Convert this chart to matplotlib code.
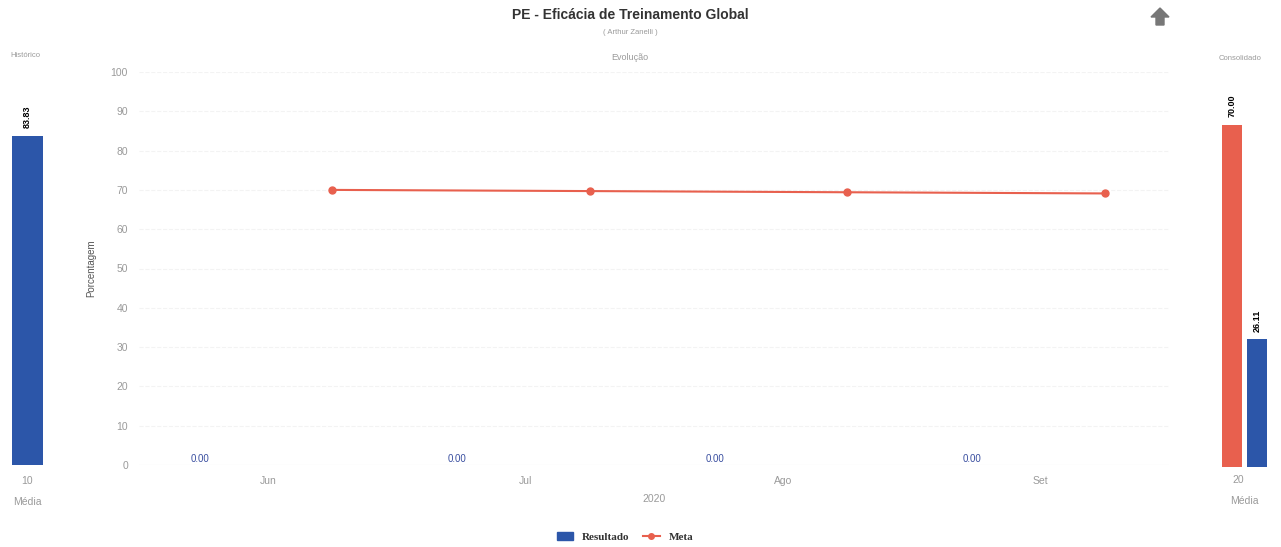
import matplotlib.pyplot as plt
from matplotlib.patches import Polygon
from matplotlib.lines import Line2D
from matplotlib.patches import Patch

# data
meses = ['Jun', 'Jul', 'Ago', 'Set']
resultado = [0.00, 0.00, 0.00, 0.00]
meta = [70.0, 69.7, 69.4, 69.1]
historico_cat = ['10']
historico_val = [83.83]
consolidado_cat = ['20']
consolidado_meta = [70.00]
consolidado_res = [26.11]

azul = '#2c56a9'
vermelho = '#e8604e'
cinza = '#9a9a9a'

plt.rcParams['font.family'] = ['Liberation Sans', 'DejaVu Sans']

fig = plt.figure(figsize=(12.81, 5.47), dpi=100)
W, H = 1281, 547


def box(x0, y0, x1, y1):
    return [x0 / W, 1 - y1 / H, (x1 - x0) / W, (y1 - y0) / H]


# grafico principal
ax = fig.add_axes(box(139, 72, 1169, 465))
x = list(range(len(meses)))
ax.bar([i - 0.265 for i in x], resultado, width=0.4, color=azul)
for i, v in zip(x, resultado):
    ax.text(i - 0.265, v + 0.2, f'{v:.2f}', ha='center', va='bottom', fontsize=7, color='#3a4fa0')
ax.plot([i + 0.25 for i in x], meta, color=vermelho, marker='o', markersize=5, linewidth=1.5)
ax.set_xlim(-0.5, 3.5)
ax.set_ylim(0, 100)
ax.set_yticks(range(0, 101, 10))
ax.set_xticks(x)
ax.set_xticklabels(meses)
ax.tick_params(length=0, labelsize=7.5, colors=cinza, pad=8)
ax.grid(axis='y', color='#f3f3f3', linestyle='--', linewidth=0.8)
for s in ax.spines.values():
    s.set_visible(False)
ax.axhline(0, color='#ececec', linewidth=0.8)
ax.set_xlabel('2020', fontsize=7.5, color=cinza, labelpad=6)
ax.set_ylabel('Porcentagem', fontsize=7, color='#555555', labelpad=10)

# historico
axh = fig.add_axes(box(5, 72, 50, 465))
axh.bar([0], historico_val, width=0.667, color=azul)
axh.text(0, historico_val[0] + 2, f'{historico_val[0]:.2f}', rotation=90,
         ha='center', va='bottom', fontsize=6.5, fontweight='bold')
axh.set_xlim(-0.5, 0.5)
axh.set_ylim(0, 100)
axh.set_xticks([0])
axh.set_xticklabels(historico_cat)
axh.set_yticks([])
axh.tick_params(length=0, labelsize=7.5, colors=cinza, pad=8)
axh.set_xlabel('Média', fontsize=7.5, color=cinza, labelpad=8)
for s in axh.spines.values():
    s.set_visible(False)

# consolidado
axc = fig.add_axes(box(1212, 72, 1277, 467))
axc.bar([-0.19], consolidado_meta, width=0.3, color=vermelho)
axc.bar([0.19], consolidado_res, width=0.3, color=azul)
axc.text(-0.19, consolidado_meta[0] + 1.5, f'{consolidado_meta[0]:.2f}', rotation=90,
         ha='center', va='bottom', fontsize=6.5, fontweight='bold')
axc.text(0.19, consolidado_res[0] + 1.5, f'{consolidado_res[0]:.2f}', rotation=90,
         ha='center', va='bottom', fontsize=6.5, fontweight='bold')
axc.set_xlim(-0.5, 0.5)
axc.set_ylim(0, 80.8)
axc.set_xticks([-0.1])
axc.set_xticklabels(consolidado_cat)
axc.set_yticks([])
axc.tick_params(length=0, labelsize=7.5, colors=cinza, pad=6)
axc.set_xlabel('Média', fontsize=7.5, color=cinza, labelpad=8)
for s in axc.spines.values():
    s.set_visible(False)

# titulos
fig.text(630 / W, 1 - 15 / H, 'PE - Eficácia de Treinamento Global', ha='center', va='center',
         fontsize=10, fontweight='bold', color='#333333')
fig.text(630 / W, 1 - 33 / H, '( Arthur Zanelli )', ha='center', va='center', fontsize=5.5, color=cinza)
fig.text(630 / W, 1 - 57 / H, 'Evolução', ha='center', va='center', fontsize=6.5, color=cinza)
fig.text(25 / W, 1 - 55 / H, 'Histórico', ha='center', va='center', fontsize=5.5, color=cinza)
fig.text(1240 / W, 1 - 58 / H, 'Consolidado', ha='center', va='center', fontsize=5.5, color=cinza)

# seta
cx, cy = 1160, 17
seta = [(cx, cy - 9), (cx + 9, cy), (cx + 4, cy), (cx + 4, cy + 8), (cx - 4, cy + 8), (cx - 4, cy), (cx - 9, cy)]
fig.patches.append(Polygon([(px / W, 1 - py / H) for px, py in seta], closed=True,
                           transform=fig.transFigure, color='#777777'))

# legenda
handles = [Patch(color=azul, label='Resultado'),
           Line2D([], [], color=vermelho, marker='o', markersize=4, label='Meta')]
fig.legend(handles=handles, loc='center', bbox_to_anchor=(625 / W, 1 - 537 / H), ncol=2,
           frameon=False, prop={'family': 'Liberation Serif', 'weight': 'bold', 'size': 8},
           handlelength=1.5, columnspacing=1.2, labelcolor='#333333')

fig.savefig('out.png', dpi=100)
